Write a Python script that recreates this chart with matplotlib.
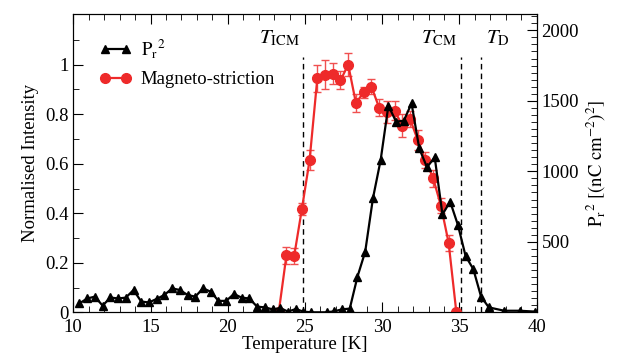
import matplotlib
matplotlib.use('Agg')
import matplotlib.pyplot as plt
from matplotlib.ticker import MultipleLocator, FixedLocator, FuncFormatter
import numpy as np

# Pr^2 (right axis, (nC cm^-2)^2)
T_pr = [10.4, 10.9, 11.4, 11.9, 12.4, 12.9, 13.4, 13.9, 14.4, 14.9,
        15.4, 15.9, 16.4, 16.9, 17.4, 17.9, 18.4, 18.9, 19.4, 19.9,
        20.4, 20.9, 21.4, 21.9, 22.4, 22.9, 23.4, 23.9, 24.4, 24.9,
        25.4, 26.4, 26.9, 27.4, 27.9, 28.4, 28.9, 29.4, 29.9, 30.4,
        30.9, 31.4, 31.9, 32.4, 32.9, 33.4, 33.9, 34.4, 34.9, 35.4,
        35.9, 36.4, 36.9, 37.9, 38.9, 39.9]
pr2 = [63, 98, 111, 47, 105, 98, 104, 158, 76, 70,
       95, 123, 170, 158, 123, 111, 170, 146, 81, 81,
       130, 104, 98, 40, 35, 21, 30, 5, 23, 5,
       0, 0, 7, 21, 26, 253, 430, 808, 1080, 1466,
       1352, 1359, 1482, 1162, 1029, 1099, 694, 785, 620, 399,
       306, 111, 35, 11, 11, 5]

# magnetostriction (left axis, normalised)
T_ms = [23.3, 23.8, 24.3, 24.8, 25.3, 25.8, 26.3, 26.8, 27.3, 27.8,
        28.3, 28.8, 29.3, 29.8, 30.3, 30.8, 31.3, 31.8, 32.3, 32.8,
        33.3, 33.8, 34.3, 34.8]
ms = [0.0, 0.23, 0.227, 0.417, 0.615, 0.945, 0.96, 0.963, 0.937, 1.0,
      0.845, 0.889, 0.912, 0.827, 0.81, 0.815, 0.754, 0.781, 0.696, 0.615,
      0.541, 0.431, 0.281, 0.0]
ms_err = [0.0, 0.034, 0.033, 0.025, 0.04, 0.054, 0.06, 0.042, 0.037, 0.047,
          0.037, 0.022, 0.032, 0.035, 0.045, 0.037, 0.045, 0.034, 0.04, 0.034,
          0.035, 0.03, 0.032, 0.0]

# transition temperatures
T_lines = [24.9, 35.07, 36.4]
T_names = [r'$T_{\rm ICM}$', r'$T_{\rm CM}$', r'$T_{\rm D}$']

plt.rcParams['font.family'] = 'Liberation Serif'
plt.rcParams['mathtext.fontset'] = 'stix'
plt.rcParams['font.size'] = 13.5

red = '#ee2a2a'

fig = plt.figure(figsize=(6.22, 3.54), dpi=100)
ax = fig.add_axes([0.1178, 0.1178, 0.745, 0.8427])
ax2 = ax.twinx()

ax.errorbar(T_ms, ms, yerr=ms_err, color=red, ecolor='#f05050', elinewidth=1,
            capsize=3, lw=1.6, marker='o', ms=7, zorder=3)
l1, = ax2.plot(T_pr, pr2, color='black', lw=1.6, marker='^', ms=6)
l2, = ax.plot([], [], color=red, lw=1.6, marker='o', ms=7)

for tx in T_lines:
    ax.plot([tx, tx], [0, 1.03], color='black', ls='--', lw=1, dashes=(4, 3))
ax.text(T_lines[0] - 0.25, 1.065, T_names[0], ha='right', va='bottom', fontsize=15)
ax.text(T_lines[1] - 0.25, 1.065, T_names[1], ha='right', va='bottom', fontsize=15)
ax.text(T_lines[2] + 0.35, 1.065, T_names[2], ha='left', va='bottom', fontsize=15)

ax.set_xlim(10, 40)
ax.set_ylim(0, 1.205)
ax2.set_ylim(0, 2116)

ax.xaxis.set_major_locator(MultipleLocator(5))
ax.xaxis.set_minor_locator(MultipleLocator(1))
ax.yaxis.set_major_locator(FixedLocator([0, 0.2, 0.4, 0.6, 0.8, 1.0]))
ax.yaxis.set_minor_locator(FixedLocator([0.1, 0.3, 0.5, 0.7, 0.9, 1.1]))
ax.yaxis.set_major_formatter(FuncFormatter(lambda v, p: '%g' % round(v, 2)))
ax2.yaxis.set_major_locator(FixedLocator([500, 1000, 1500, 2000]))
ax2.yaxis.set_minor_locator(MultipleLocator(50))

ax.tick_params(which='both', direction='in', top=True, right=False)
ax.tick_params(which='major', length=7)
ax.tick_params(which='minor', length=4)
ax.tick_params(axis='x', pad=5)
ax2.tick_params(which='both', direction='in')
ax2.tick_params(which='major', length=7)
ax2.tick_params(which='minor', length=4)

ax.set_xlabel('Temperature [K]', labelpad=0)
ax.set_ylabel('Normalised Intensity', labelpad=4)
ax2.set_ylabel(r'$\mathrm{P_r}^{2}\ [(\mathrm{nC\ cm^{-2}})^{2}]$', labelpad=4)

ax.legend([l1, l2], [r'$\mathrm{P_r}^{2}$', 'Magneto-striction'],
          loc='upper left', frameon=False, numpoints=2, handlelength=1.7,
          handletextpad=0.5, bbox_to_anchor=(0.02, 0.98), labelspacing=0.6)

fig.savefig('out.png', dpi=100)
